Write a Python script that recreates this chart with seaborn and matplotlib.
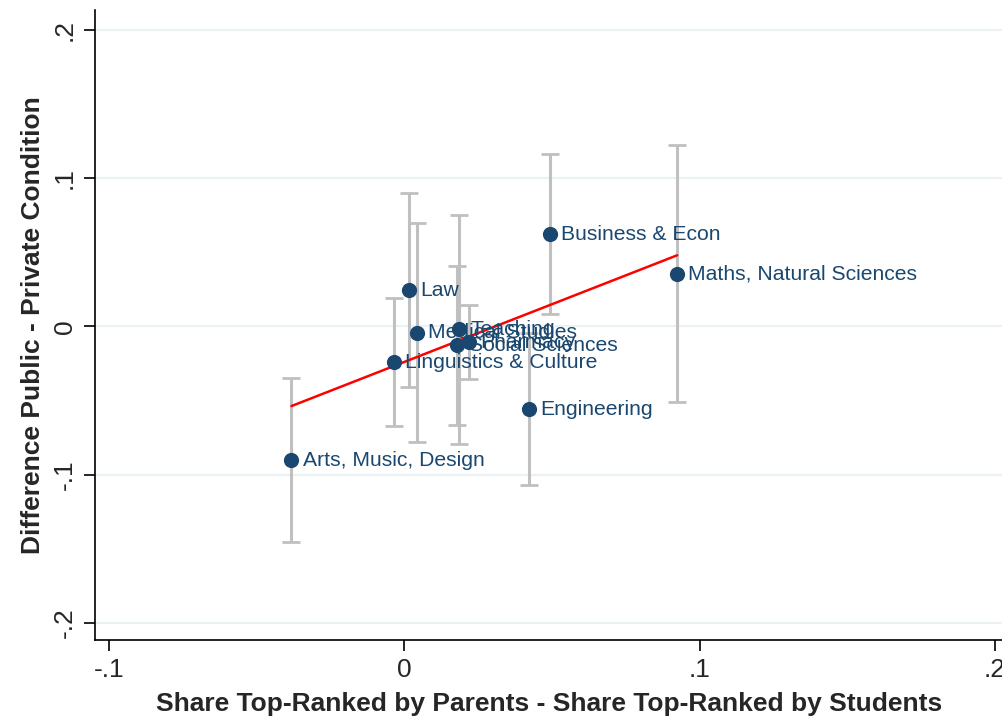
import numpy as np
import pandas as pd
import matplotlib
matplotlib.use("Agg")
import matplotlib.pyplot as plt
import seaborn as sns

# Field-of-study gaps: parents' vs students' top-ranked share (x),
# public minus private condition (y), with 95% confidence bounds.
fields = ["Arts, Music, Design", "Linguistics & Culture", "Law", "Medical Studies",
          "Teaching", "Social Sciences", "Pharmacy", "Engineering",
          "Business & Econ", "Maths, Natural Sciences"]
share_diff = [-0.0382, -0.0034, 0.0017, 0.0044, 0.0186, 0.0180, 0.0220, 0.0423, 0.0494, 0.0924]
cond_diff = [-0.0904, -0.0243, 0.0243, -0.0043, -0.0020, -0.0128, -0.0108, -0.0560, 0.0620, 0.0355]
ci_low = [-0.1457, -0.0674, -0.0410, -0.0780, -0.0790, -0.0668, -0.0357, -0.1070, 0.0081, -0.0512]
ci_high = [-0.0350, 0.0189, 0.0897, 0.0694, 0.0750, 0.0410, 0.0142, -0.0047, 0.1160, 0.1220]

x_ticks = [-0.1, 0.0, 0.1, 0.2]
x_tick_labels = ["-.1", "0", ".1", ".2"]
y_ticks = [-0.2, -0.1, 0.0, 0.1, 0.2]
y_tick_labels = ["-.2", "-.1", "0", ".1", ".2"]

df = pd.DataFrame({"field": fields, "x": share_diff, "y": cond_diff,
                   "lo": ci_low, "hi": ci_high})

sns.set_theme(style="white")
plt.rcParams["font.family"] = ["Liberation Sans", "DejaVu Sans"]

navy = "#1a476f"
fig = plt.figure(figsize=(10.03, 7.17), dpi=100)
ax = fig.add_axes([0.0947, 0.1074, 0.9053, 0.879])

# light horizontal grid at the y ticks
for yt in y_ticks:
    ax.axhline(yt, color="#eaf2f3", lw=1.6, zorder=0)

# confidence intervals
ax.errorbar(df["x"], df["y"],
            yerr=[df["y"] - df["lo"], df["hi"] - df["y"]],
            fmt="none", ecolor="#c0c0c0", elinewidth=2.2, capsize=6.5,
            capthick=2.0, zorder=1)

# linear fit
sns.regplot(data=df, x="x", y="y", ci=None, scatter=False, ax=ax,
            line_kws={"color": "red", "lw": 1.8, "zorder": 2})

# points
sns.scatterplot(data=df, x="x", y="y", ax=ax, color=navy, s=120,
                edgecolor=navy, linewidth=0, zorder=3, legend=False)

for _, r in df.iterrows():
    ax.annotate(r["field"], (r["x"], r["y"]), xytext=(8, 0),
                textcoords="offset points", va="center", ha="left",
                fontsize=15.2, color=navy, zorder=4)

ax.set_xlim(-0.1047, 0.2027)
ax.set_ylim(-0.2115, 0.2135)
ax.set_xticks(x_ticks)
ax.set_xticklabels(x_tick_labels, fontsize=19)
ax.set_yticks(y_ticks)
ax.set_yticklabels(y_tick_labels, fontsize=19, rotation=90, va="center")

ax.tick_params(axis="both", which="major", direction="out", length=8,
               width=1.2, color="black", bottom=True, left=True, pad=5)

for side in ["top", "right"]:
    ax.spines[side].set_visible(False)
for side in ["left", "bottom"]:
    ax.spines[side].set_color("black")
    ax.spines[side].set_linewidth(1.2)

ax.set_xlabel("Share Top-Ranked by Parents - Share Top-Ranked by Students",
              fontsize=19, fontweight="bold", labelpad=7)
ax.set_ylabel("Difference Public - Private Condition",
              fontsize=19, fontweight="bold", labelpad=6)

fig.savefig("out.png", dpi=100, facecolor="white")
